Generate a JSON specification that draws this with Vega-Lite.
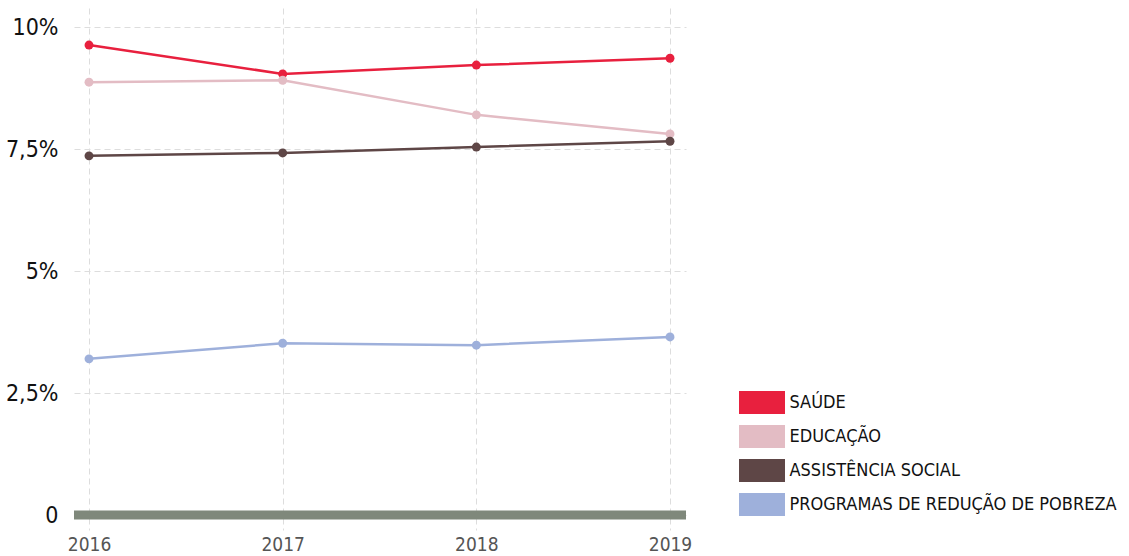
{
  "$schema": "https://vega.github.io/schema/vega-lite/v6.json",
  "width": 612,
  "height": 522,
  "autosize": {"type": "none"},
  "padding": {"left": 74, "top": 8, "right": 443, "bottom": 26},
  "background": "white",
  "config": {
    "font": "DejaVu Sans Condensed, sans-serif",
    "view": {"stroke": null}
  },
  "data": {
    "values": [
      {"ano": 2016, "serie": "SAÚDE", "valor": 9.63},
      {"ano": 2017, "serie": "SAÚDE", "valor": 9.04},
      {"ano": 2018, "serie": "SAÚDE", "valor": 9.22},
      {"ano": 2019, "serie": "SAÚDE", "valor": 9.36},
      {"ano": 2016, "serie": "EDUCAÇÃO", "valor": 8.87},
      {"ano": 2017, "serie": "EDUCAÇÃO", "valor": 8.91},
      {"ano": 2018, "serie": "EDUCAÇÃO", "valor": 8.2},
      {"ano": 2019, "serie": "EDUCAÇÃO", "valor": 7.81},
      {"ano": 2016, "serie": "ASSISTÊNCIA SOCIAL", "valor": 7.36},
      {"ano": 2017, "serie": "ASSISTÊNCIA SOCIAL", "valor": 7.42},
      {"ano": 2018, "serie": "ASSISTÊNCIA SOCIAL", "valor": 7.54},
      {"ano": 2019, "serie": "ASSISTÊNCIA SOCIAL", "valor": 7.66},
      {"ano": 2016, "serie": "PROGRAMAS DE REDUÇÃO DE POBREZA", "valor": 3.2},
      {"ano": 2017, "serie": "PROGRAMAS DE REDUÇÃO DE POBREZA", "valor": 3.52},
      {"ano": 2018, "serie": "PROGRAMAS DE REDUÇÃO DE POBREZA", "valor": 3.48},
      {"ano": 2019, "serie": "PROGRAMAS DE REDUÇÃO DE POBREZA", "valor": 3.65}
    ]
  },
  "encoding": {
    "x": {
      "field": "ano",
      "type": "quantitative",
      "scale": {"domain": [2015.9225, 2019.0826], "nice": false, "zero": false},
      "axis": {
        "title": null,
        "values": [2016, 2017, 2018, 2019],
        "format": "d",
        "domain": false,
        "ticks": false,
        "labelFontSize": 19,
        "labelColor": "#555555",
        "labelPadding": 5,
        "grid": true,
        "gridColor": "#dddddd",
        "gridDash": [6, 4],
        "gridWidth": 1
      }
    },
    "y": {
      "field": "valor",
      "type": "quantitative",
      "scale": {"domain": [-0.307, 10.39], "nice": false, "zero": false},
      "axis": {
        "title": null,
        "values": [0, 2.5, 5, 7.5, 10],
        "labelExpr": "datum.value == 0 ? '0' : replace(format(datum.value, '~g'), '.', ',') + '%'",
        "domain": false,
        "ticks": false,
        "labelFontSize": 23,
        "labelColor": "#111111",
        "labelPadding": 16,
        "grid": true,
        "gridColor": "#dddddd",
        "gridDash": [6, 4],
        "gridWidth": 1
      }
    },
    "color": {
      "field": "serie",
      "type": "nominal",
      "sort": ["SAÚDE", "EDUCAÇÃO", "ASSISTÊNCIA SOCIAL", "PROGRAMAS DE REDUÇÃO DE POBREZA"],
      "scale": {
        "domain": ["SAÚDE", "EDUCAÇÃO", "ASSISTÊNCIA SOCIAL", "PROGRAMAS DE REDUÇÃO DE POBREZA"],
        "range": ["#e8203e", "#e3bcc4", "#5e4646", "#9eb0db"]
      },
      "legend": {
        "title": null,
        "orient": "none",
        "legendX": 676.5,
        "legendY": 383,
        "padding": 0,
        "symbolType": "M-2,-1H2V1H-2Z",
        "symbolSize": 529,
        "symbolStrokeWidth": 0,
        "symbolOpacity": 1,
        "labelFontSize": 18,
        "labelColor": "#111111",
        "labelOffset": 16,
        "rowPadding": 11,
        "labelLimit": 400
      }
    }
  },
  "layer": [
    {
      "mark": {"type": "rule", "color": "#7f887b", "strokeWidth": 9},
      "data": {"values": [{"z": 0}]},
      "encoding": {
        "y": {"field": "z", "type": "quantitative"},
        "x": null,
        "color": null
      }
    },
    {
      "mark": {"type": "line", "strokeWidth": 2.5}
    },
    {
      "mark": {"type": "circle", "size": 80, "opacity": 1}
    }
  ]
}
